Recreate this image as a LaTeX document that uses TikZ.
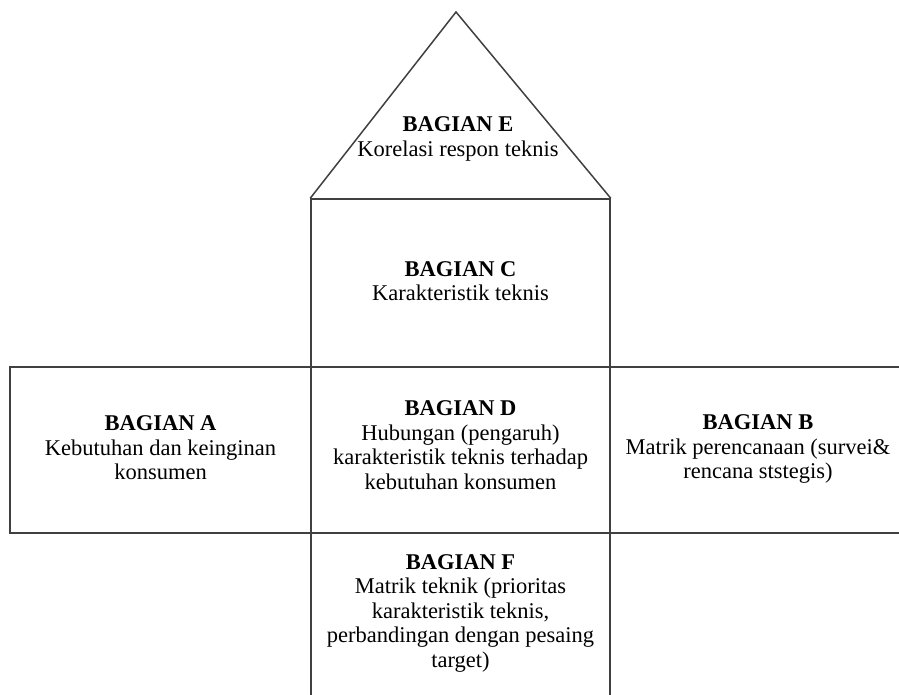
\documentclass[tikz,border=0pt]{standalone}
\usepackage{fontspec}
\setmainfont{Liberation Serif}
\usetikzlibrary{positioning}
\tikzstyle{partbox}=[rectangle,draw=black!75,line width=1.5pt,inner sep=0pt]
\tikzstyle{parttext}=[align=center,inner sep=0pt,font=\fontsize{22.5}{24.5}\selectfont]
\tikzstyle{roofline}=[draw=black!75,line width=1.5pt,line join=miter]

\begin{document}
\begin{tikzpicture}[x=1pt,y=-1pt]

    \clip (0,0) rectangle (899,695);
    \fill[white] (0,0) rectangle (899,695);

    % boxes of the house
    \foreach \pos/ \name/ \w/ \h in {{(460.5,283)/C/299/168}, {(160.5,450)/A/301/166}, {(460.5,450)/D/299/166},
                                     {(762.5,450)/B/305/166}, {(460.5,621.5)/F/299/177}}
        \node[partbox,minimum width=\w pt,minimum height=\h pt] (\name) at \pos {};

    % roof
    \coordinate (top) at (456,12);
    \path[roofline] (C.north west) -- (top) -- (C.north east);

    % texts
    \node[parttext] (tE) at (458,139) {\textbf{BAGIAN E}\\Korelasi respon teknis};
    \node[parttext] (tC) at (C.center) [yshift=2pt] {\textbf{BAGIAN C}\\Karakteristik teknis};
    \node[parttext] (tA) at (160.5,448) {\textbf{BAGIAN A}\\Kebutuhan dan keinginan\\konsumen};
    \node[parttext] (tD) at (460.5,445) {\textbf{BAGIAN D}\\Hubungan (pengaruh)\\karakteristik teknis terhadap\\kebutuhan konsumen};
    \node[parttext] (tB) at (758,449) {\textbf{BAGIAN B}\\Matrik perencanaan (survei\&\\rencana ststegis)};
    \node[parttext] (tF) at (460.5,613) {\textbf{BAGIAN F}\\Matrik teknik (prioritas\\karakteristik teknis,\\perbandingan dengan pesaing\\target)};

\end{tikzpicture}
\end{document}
